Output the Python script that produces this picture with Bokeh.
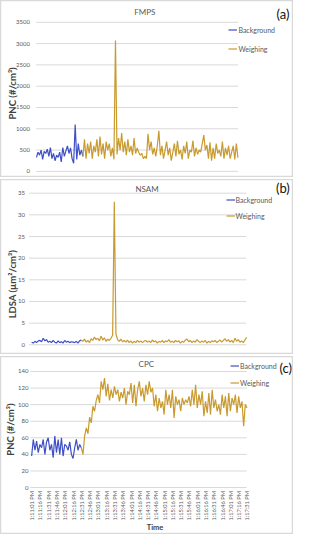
import math
from bokeh.plotting import figure
from bokeh.models import Range1d, Legend, LegendItem
from bokeh.layouts import column
from bokeh.embed import file_html
from bokeh.resources import INLINE
from bokeh.core.properties import value

FONT = "Lato"
BLUE = "#3F4FC6"
GOLD = "#C99A2E"
TXT = "#595959"
DARK = "#404040"
GRID = "#D9D9D9"

# ---------------- data ----------------
tick_seconds = [0, 15, 30, 45, 60, 75, 90, 105, 120, 135, 150, 165, 180, 195,
                210, 225, 240, 255, 270, 285, 300, 315, 330, 345, 360, 375, 390]
tick_labels = ["1:11:01 PM", "1:11:16 PM", "1:11:31 PM", "1:11:46 PM", "1:12:01 PM",
               "1:12:16 PM", "1:12:31 PM", "1:12:46 PM", "1:13:01 PM", "1:13:16 PM",
               "1:13:31 PM", "1:13:46 PM", "1:14:01 PM", "1:14:16 PM", "1:14:31 PM",
               "1:14:46 PM", "1:15:01 PM", "1:15:16 PM", "1:15:31 PM", "1:15:46 PM",
               "1:16:01 PM", "1:16:16 PM", "1:16:31 PM", "1:16:46 PM", "1:17:01 PM",
               "1:17:16 PM", "1:17:31 PM"]
series_names = ["Background", "Weighing"]

fmps_yticks = [0, 500, 1000, 1500, 2000, 2500, 3000, 3500]
nsam_yticks = [0, 5, 10, 15, 20, 25, 30, 35]
cpc_yticks = [0, 20, 40, 60, 80, 100, 120, 140]

fmps_background = [330, 450, 380, 500, 280, 470, 420, 520, 350, 560,
                   300, 420, 250, 380, 330, 450, 220, 560, 350, 480,
                   600, 420, 550, 300, 190, 1100, 280, 650, 380, 500,
                   350]
fmps_weighing = [350, 750, 300, 650, 420, 700, 300, 600, 450, 750,
                 350, 820, 400, 650, 300, 700, 500, 650, 350, 550,
                 280, 3070, 400, 780, 500, 900, 450, 700, 380, 750,
                 450, 600, 380, 780, 420, 550, 450, 380, 420, 300,
                 350, 300, 880, 500, 700, 400, 550, 350, 600, 950,
                 380, 600, 300, 500, 700, 380, 550, 250, 450, 650,
                 350, 720, 400, 500, 280, 600, 420, 700, 300, 500,
                 450, 720, 350, 550, 400, 500, 450, 650, 850, 500,
                 620, 300, 680, 250, 550, 300, 650, 420, 500, 350,
                 700, 300, 550, 380, 600, 300, 450, 600, 280, 650,
                 320]

nsam_background = [0.6, 0.4, 0.8, 0.5, 0.9, 1.0, 0.7, 1.5, 0.9, 1.2,
                   0.6, 0.8, 0.5, 1.0, 0.6, 0.4, 0.9, 0.5, 0.7, 0.4,
                   1.0, 0.6, 0.8, 0.5, 0.7, 0.6, 0.5, 0.8, 0.4, 0.9,
                   1.1]
nsam_weighing = [1.1, 0.8, 1.3, 0.6, 1.0, 0.5, 1.4, 1.0, 1.8, 1.2,
                 1.5, 0.9, 2.0, 1.1, 1.6, 0.8, 1.3, 1.0, 1.5, 2.2,
                 33.0, 2.5, 1.2, 0.8, 1.3, 0.7, 1.0, 0.6, 1.1, 0.5,
                 0.9, 0.4, 0.8, 0.5, 1.0, 0.6, 0.9, 0.5, 0.8, 1.0,
                 0.6, 0.9, 0.5, 1.1, 0.7, 0.9, 0.4, 0.8, 0.6, 1.0,
                 0.5, 0.9, 0.7, 1.2, 0.6, 0.8, 0.5, 1.0, 0.7, 0.9,
                 0.4, 0.8, 0.6, 1.1, 1.3, 0.7, 1.0, 0.5, 0.9, 0.6,
                 1.2, 0.8, 0.5, 0.9, 0.6, 1.0, 0.4, 0.8, 0.5, 0.9,
                 0.7, 1.0, 0.5, 0.8, 1.1, 0.6, 1.0, 1.4, 0.8, 1.2,
                 0.6, 1.0, 0.5, 1.5, 0.8, 1.2, 0.6, 0.9, 0.5, 1.1,
                 1.7]

cpc_background = [38, 58, 45, 56, 42, 52, 48, 58, 40, 55,
                  60, 45, 52, 36, 62, 42, 58, 40, 60, 38,
                  52, 50, 45, 55, 40, 35, 48, 58, 45, 52,
                  48]
cpc_weighing = [48, 40, 62, 72, 65, 85, 78, 98, 92, 105,
                112, 102, 128, 118, 132, 110, 125, 105, 118, 108,
                122, 112, 118, 104, 115, 108, 120, 100, 116, 112,
                126, 102, 124, 98, 118, 128, 110, 120, 104, 124,
                112, 128, 115, 120, 98, 112, 92, 108, 96, 104,
                88, 118, 100, 112, 96, 118, 84, 110, 100, 106,
                92, 108, 100, 106, 102, 110, 98, 118, 100, 124,
                96, 112, 100, 116, 86, 104, 90, 114, 88, 118,
                96, 106, 92, 100, 88, 112, 96, 110, 86, 114,
                92, 108, 100, 112, 90, 110, 96, 104, 74, 100,
                96]

STEP = 3          # seconds between plotted samples
WEIGH_START = 90  # seconds after 1:11:01 PM
T_END = 390

# ---------------- layout (positions measured on the reference) ----------------
W = 293
SX = 293 / 304.0
SY = 534 / 546.0
GAP = 2


def make_panel(spec, bg, wt, yticks, ylabel, title, tag, show_time_axis):
    top = spec["top"]
    H = spec["H"]

    def px(rx):
        return (rx - 2) * SX

    def py(ry):
        return (ry - top) * SY

    X0, X1 = px(spec["x0"]), px(spec["x1"])
    Y0, Y1 = py(spec["y0"]), py(spec["y1"])
    ymax = yticks[-1]
    kx = T_END / (X1 - X0)
    ky = ymax / (Y0 - Y1)

    def dx(rx):
        return (px(rx) - X0) * kx

    def dy(ry):
        return (Y0 - py(ry)) * ky

    xr = ((0 - X0) * kx, (W - X0) * kx)
    yr = ((Y0 - H) * ky, Y0 * ky)

    p = figure(width=W, height=H, output_backend="svg", toolbar_location=None,
               x_range=Range1d(*xr), y_range=Range1d(*yr),
               x_axis_type=None, y_axis_type=None, min_border=0)
    p.min_border_left = p.min_border_right = p.min_border_top = p.min_border_bottom = 0
    p.background_fill_color = "white"
    p.border_fill_color = "white"
    p.outline_line_color = GRID
    p.outline_line_width = 1.5

    # gridlines
    gx0, gx1 = dx(spec["g0"]), dx(spec["g1"])
    p.segment(x0=[gx0] * len(yticks), x1=[gx1] * len(yticks), y0=yticks, y1=yticks,
              line_color=GRID, line_width=1)

    # y tick labels
    p.text(x=[dx(spec["tick_right"])] * len(yticks), y=yticks,
           text=[str(v) for v in yticks], text_align="right", text_baseline="middle",
           text_font=value(FONT), text_font_size="6px", text_color=TXT)

    # y axis label
    lx, ly = spec["ylab"]
    p.text(x=[dx(lx)], y=[dy(ly)], text=[ylabel], angle=math.pi / 2,
           text_align="center", text_baseline="middle",
           text_font=value(FONT), text_font_size="9.5px", text_font_style="bold",
           text_color=DARK)

    # series
    bt = [STEP * i for i in range(len(bg))]
    wtt = [WEIGH_START + STEP * i for i in range(len(wt))]
    r1 = p.line(bt, bg, line_color=BLUE, line_width=1.2)
    r2 = p.line(wtt, wt, line_color=GOLD, line_width=1.2)

    # title and panel tag
    tx, ty = spec["title"]
    p.text(x=[dx(tx)], y=[dy(ty)], text=[title], text_align="center", text_baseline="middle",
           text_font=value(FONT), text_font_size="8px", text_color=TXT)
    gx, gy = spec["tag"]
    p.text(x=[dx(gx)], y=[dy(gy)], text=[tag], text_align="center", text_baseline="middle",
           text_font=value(FONT), text_font_size="13px", text_color="#111111")

    # time axis
    if show_time_axis:
        p.text(x=tick_seconds, y=[dy(spec["xtick_top"])] * len(tick_seconds),
               text=tick_labels, angle=math.pi / 2, text_align="right",
               text_baseline="middle", text_font=value(FONT), text_font_size="5.7px",
               text_color=TXT)
        ax, ay = spec["xlab"]
        p.text(x=[dx(ax)], y=[dy(ay)], text=["Time"], text_align="center",
               text_baseline="middle", text_font=value(FONT), text_font_size="7.5px",
               text_font_style="bold", text_color=DARK)

    # legend
    item_h = 9
    spacing = (spec["leg_y2"] - spec["leg_y1"]) * SY - item_h
    leg_h = 2 * item_h + spacing
    leg_top = py(spec["leg_y1"]) - item_h / 2
    legend = Legend(items=[LegendItem(label=series_names[0], renderers=[r1]),
                           LegendItem(label=series_names[1], renderers=[r2])],
                    location=(px(spec["leg_x"]), H - leg_top - leg_h),
                    orientation="vertical", border_line_color=None,
                    background_fill_alpha=0, label_text_font=FONT,
                    label_text_font_size="7px", label_text_color=TXT,
                    glyph_width=9, glyph_height=item_h, label_height=item_h,
                    label_standoff=1, spacing=int(round(spacing)), padding=0, margin=0)
    p.add_layout(legend)
    return p


spec_a = dict(top=2, H=177, x0=39.3, x1=248.3, y0=176.7, y1=24.3, g0=39.0, g1=248.5,
              tick_right=32.5, ylab=(14.0, 97.0), title=(151.7, 13.3), tag=(295.0, 15.7),
              leg_x=239.0, leg_y1=32.7, leg_y2=52.0)
spec_b = dict(top=185, H=175, x0=34.3, x1=257.3, y0=354.0, y1=199.0, g0=31.7, g1=257.0,
              tick_right=27.5, ylab=(14.0, 292.0), title=(154.0, 195.0), tag=(295.0, 193.3),
              leg_x=236.0, leg_y1=206.0, leg_y2=222.7)
spec_c = dict(top=366, H=178, x0=34.3, x1=257.7, y0=500.0, y1=381.3, g0=33.0, g1=257.5,
              tick_right=31.0, ylab=(12.5, 440.7), title=(153.3, 374.0), tag=(298.0, 377.3),
              leg_x=240.7, leg_y1=376.0, leg_y2=393.3, xtick_top=503.5, xlab=(162.3, 540.7))

pa = make_panel(spec_a, fmps_background, fmps_weighing, fmps_yticks,
                "PNC (#/cm³)", "FMPS", "(a)", False)
pb = make_panel(spec_b, nsam_background, nsam_weighing, nsam_yticks,
                "LDSA (µm²/cm³)", "NSAM", "(b)", False)
pc = make_panel(spec_c, cpc_background, cpc_weighing, cpc_yticks,
                "PNC (#/cm³)", "CPC", "(c)", True)

layout = column(pa, pb, pc, spacing=GAP)
open("out.html", "w").write(file_html(layout, INLINE))
